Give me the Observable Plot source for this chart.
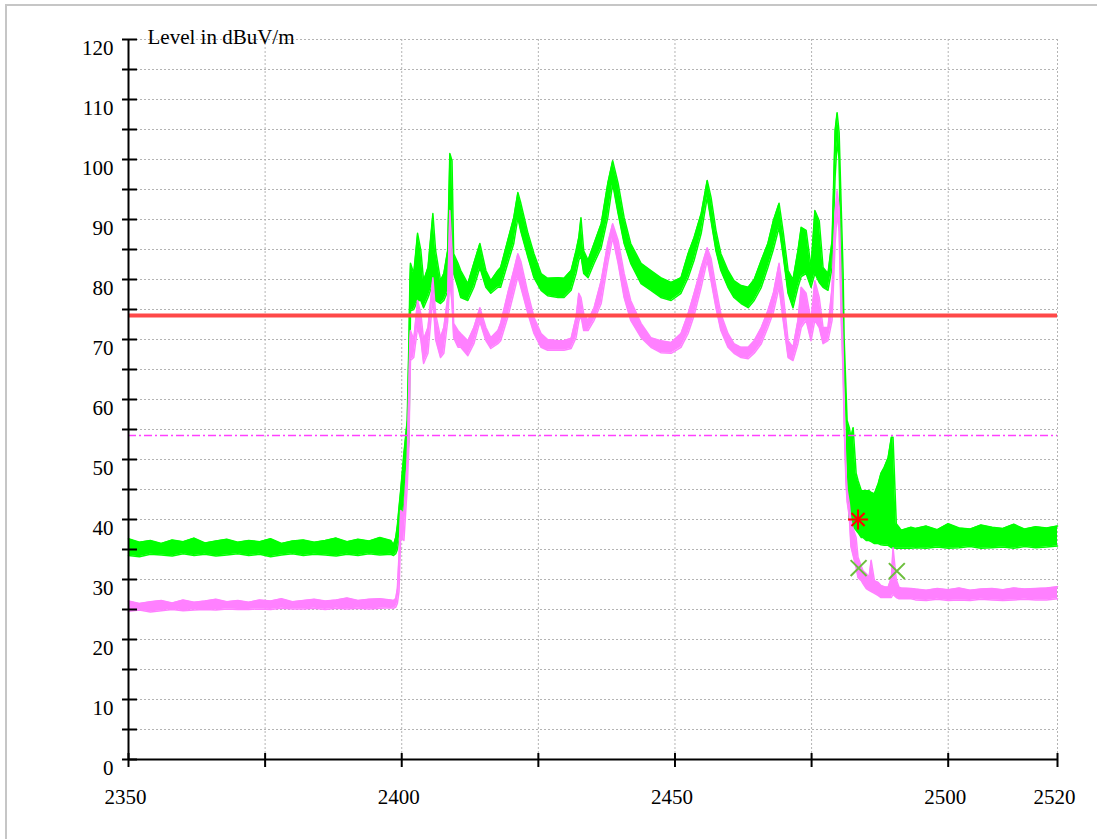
<!DOCTYPE html>
<html>
<head>
<meta charset="utf-8">
<script src="https://cdn.jsdelivr.net/npm/d3@7"></script>
<script src="https://cdn.jsdelivr.net/npm/@observablehq/plot@0.6"></script>
<style>
  html, body { margin: 0; padding: 0; background: #fff; overflow: hidden; }
  #wrap { position: relative; width: 1097px; height: 839px; }
  #border { position: absolute; left: 5px; top: 4px; width: 1200px; height: 1000px;
            border: 2px solid #c6c6c6; pointer-events: none; }
  #chart { position: absolute; left: 0; top: 0; }
  #chart svg text { font-family: "Liberation Serif", "Times New Roman", serif; }
</style>
</head>
<body>
<div id="wrap"><div id="border"></div><div id="chart"></div></div>
<script>
// ---- frequency axis (MHz) ----
const freq = [
  // flat, below band
  2350, 2352, 2354, 2356, 2358, 2360, 2362, 2364, 2366, 2368, 2370, 2372, 2374,
  2376, 2378, 2380, 2382, 2384, 2386, 2388, 2390, 2392, 2394, 2396, 2398,
  // rising edge
  2398.5, 2398.9, 2399.2, 2399.5, 2399.8, 2400.4, 2401.0, 2401.3, 2401.5,
  // in-band
  2401.6, 2402.2, 2402.9, 2403.5, 2404.0, 2404.8, 2405.7, 2406.2, 2407.1, 2407.7,
  2408.4, 2408.8, 2409.2, 2409.5, 2410.3, 2410.8, 2412.1, 2413.2, 2414.3, 2415.4,
  2416.3, 2417.6, 2418.1, 2419.4, 2420.5, 2421.25, 2421.8, 2423.1, 2424.2, 2425.5,
  2426.7, 2428.6, 2429.7, 2431.0, 2431.9, 2432.4, 2432.8, 2433.3, 2434.1, 2435.2,
  2436.5, 2437.7, 2438.6, 2439.6, 2440.7, 2441.9, 2443.8, 2445.6, 2447.4, 2449.3,
  2451.1, 2452.4, 2453.5, 2454.8, 2455.9, 2456.6, 2457.5, 2458.4, 2459.7, 2460.8,
  2462.1, 2463.4, 2464.5, 2465.8, 2467.0, 2468.0, 2469.05, 2469.8, 2470.7, 2471.6,
  2472.5, 2473.1, 2474.0, 2474.9, 2475.6, 2476.4, 2477.1, 2478.0, 2478.75, 2479.3,
  2479.67, 2480.04, 2480.4, 2480.77, 2480.95, 2481.3, 2481.5, 2481.9, 2482.2, 2482.6,
  2483.15, 2483.5, 2484.1, 2484.4, 2485.0, 2485.5, 2485.9, 2486.5, 2487.2, 2487.7,
  2488.3, 2489.0, 2489.6, 2489.9, 2490.5, 2491.0, 2491.4, 2493.2,
  // flat, above band
  2494, 2496, 2498, 2500, 2502, 2504, 2506, 2508, 2510, 2512, 2514, 2516, 2518, 2520
];

// ---- peak trace (green), lower / upper edge of the noisy trace, dBuV/m ----
const greenLo = [
  34.0, 33.8, 34.2, 34.1, 33.9, 34.3, 34.0, 34.2, 33.9, 34.1, 34.3, 34.0, 34.2,
  33.8, 34.1, 34.3, 34.0, 34.2, 34.1, 33.9, 34.2, 34.0, 34.3, 34.1, 34.2,
  34.0, 34.3, 35.0, 36.5, 38.2, 42.7, 49.8, 53.0, 66.0,
  74.8, 75.0, 76.5, 76.5, 75.3, 77.0, 79.3, 76.5, 76.0, 76.5,
  78.0, 85.0, 85.0, 81.0, 78.7, 77.0, 76.5, 78.7, 82.0, 78.7,
  77.7, 78.7, 78.7, 82.7, 86.0, 90.3, 88.0, 83.7, 80.3, 78.2,
  77.3, 77.0, 77.0, 78.2, 81.0, 83.2, 84.0, 81.0, 80.3, 82.7,
  85.3, 90.3, 96.0, 91.0, 86.0, 82.7, 79.3, 78.2, 77.0, 76.5,
  77.7, 80.3, 83.2, 87.7, 93.7, 89.8, 84.8, 81.5, 78.7, 77.0,
  76.0, 75.3, 76.5, 78.7, 82.0, 85.0, 88.7, 84.0, 77.7, 75.3,
  78.7, 80.5, 81.0, 78.7, 81.0, 79.5, 78.7, 78.2, 82.0, 97.0,
  103.0, 100.0, 80.0, 72.0, 66.0, 58.0, 50.0, 40.0, 39.3, 38.8,
  38.2, 37.8, 37.0, 37.0, 36.5, 36.5, 36.3, 36.0, 36.0, 35.8,
  35.7, 35.7, 35.3, 35.3, 35.2, 35.2, 35.2, 35.2,
  35.3, 35.2, 35.4, 35.2, 35.3, 35.5, 35.2, 35.3, 35.4, 35.2, 35.5, 35.3, 35.4, 35.6
];
const greenHi = [
  36.8, 36.2, 36.5, 36.0, 36.6, 36.3, 36.9, 36.1, 36.4, 36.7, 36.2, 36.5, 36.3,
  36.8, 36.0, 36.4, 36.6, 36.2, 36.5, 36.9, 36.3, 36.7, 36.4, 37.0, 36.5,
  35.8, 37.0, 39.0, 42.0, 44.8, 51.0, 56.5, 69.0, 80.0,
  82.7, 81.0, 87.7, 84.8, 79.8, 82.0, 91.0, 84.8, 79.8, 81.0,
  84.8, 101.0, 99.8, 84.3, 82.7, 81.5, 79.3, 82.7, 86.0, 81.5,
  79.8, 81.5, 82.0, 86.5, 90.3, 94.5, 92.7, 87.7, 84.3, 81.0,
  80.2, 80.3, 80.2, 81.5, 84.8, 87.0, 90.3, 84.8, 83.2, 86.0,
  89.3, 96.0, 99.8, 96.0, 90.3, 86.0, 82.7, 81.5, 80.3, 79.5,
  80.3, 84.3, 87.0, 91.0, 96.5, 93.7, 88.2, 84.3, 81.5, 79.8,
  79.0, 78.7, 80.0, 83.2, 86.0, 89.8, 92.7, 88.0, 81.5, 80.0,
  84.8, 88.7, 88.2, 82.0, 91.5, 89.8, 82.0, 81.0, 86.5, 104.8,
  107.8, 104.5, 92.7, 81.0, 70.3, 61.5, 56.5, 55.3, 53.7, 55.3,
  47.7, 46.5, 44.8, 44.8, 44.8, 44.8, 44.5, 44.3, 46.0, 47.7,
  48.7, 50.3, 53.7, 53.7, 39.3, 38.7, 38.2, 38.7,
  38.5, 38.9, 38.3, 39.3, 38.6, 38.4, 39.1, 38.7, 38.5, 39.2, 38.4, 38.8, 38.6, 38.9
];

// ---- average trace (violet), lower / upper edge, dBuV/m ----
const violetLo = [
  24.7, 24.9, 24.6, 24.8, 25.0, 24.8, 24.9, 25.0, 24.9, 25.1, 25.0, 25.0, 25.1,
  25.0, 25.2, 25.1, 25.1, 25.2, 25.0, 25.2, 25.1, 25.2, 25.1, 25.2, 25.3,
  25.2, 25.4, 26.0, 28.0, 37.0, 36.5, 45.3, 52.0, 62.0,
  66.5, 67.0, 72.0, 70.0, 66.0, 67.7, 77.0, 70.0, 67.0, 67.7,
  73.0, 80.0, 76.0, 70.3, 68.7, 68.7, 67.3, 69.3, 73.0, 69.8,
  68.5, 69.3, 69.8, 73.7, 77.7, 80.5, 78.7, 74.3, 71.0, 68.7,
  68.2, 68.2, 68.2, 68.5, 70.3, 73.0, 74.0, 71.5, 71.5, 73.2,
  76.0, 82.7, 87.0, 82.7, 77.0, 73.2, 70.3, 68.7, 67.8, 67.7,
  68.7, 71.0, 74.0, 78.7, 83.2, 79.8, 75.3, 71.5, 68.7, 67.7,
  67.0, 66.8, 67.7, 69.3, 72.0, 74.5, 78.7, 73.2, 67.0, 66.5,
  69.3, 72.0, 73.2, 69.8, 73.2, 72.0, 69.3, 69.8, 73.2, 86.0,
  91.0, 88.0, 74.0, 64.0, 56.0, 46.0, 43.0, 40.5, 35.5, 34.0,
  32.0, 30.3, 29.8, 29.3, 28.5, 28.2, 28.0, 27.7, 27.3, 27.0,
  27.0, 27.0, 27.0, 27.5, 27.0, 26.8, 26.8, 26.8,
  26.6, 26.5, 26.7, 26.5, 26.6, 26.5, 26.7, 26.6, 26.5, 26.6, 26.7, 26.6, 26.6, 26.8
];
const violetHi = [
  26.4, 26.0, 26.3, 26.5, 26.1, 26.6, 26.2, 26.4, 26.7, 26.3, 26.5, 26.2, 26.6,
  26.4, 26.8, 26.3, 26.5, 26.7, 26.4, 26.6, 26.9, 26.5, 26.7, 26.8, 26.6,
  26.5, 26.8, 28.5, 34.0, 41.5, 41.0, 49.8, 62.0, 70.0,
  71.5, 70.0, 76.5, 74.3, 70.0, 72.0, 80.3, 74.3, 70.3, 72.0,
  77.0, 91.5, 84.8, 72.7, 71.5, 71.0, 69.8, 72.0, 75.3, 72.0,
  70.3, 71.5, 72.7, 77.7, 81.5, 84.3, 83.0, 77.7, 73.7, 71.0,
  70.0, 69.8, 69.8, 70.2, 73.7, 77.7, 77.0, 74.3, 73.2, 75.3,
  79.8, 86.0, 89.3, 86.5, 81.0, 76.5, 72.7, 70.3, 69.8, 69.5,
  71.0, 74.3, 77.7, 82.0, 85.3, 83.5, 78.7, 74.3, 71.0, 69.3,
  68.7, 68.7, 69.8, 72.0, 74.8, 77.7, 82.7, 77.7, 69.8, 68.7,
  73.2, 78.7, 77.7, 73.2, 79.8, 77.0, 72.0, 72.0, 78.7, 91.0,
  94.8, 92.0, 80.3, 68.2, 58.2, 47.7, 45.0, 42.7, 39.8, 38.5,
  37.0, 33.7, 32.2, 31.5, 31.0, 30.3, 33.2, 29.8, 29.5, 29.0,
  28.8, 28.7, 30.3, 35.3, 30.0, 28.7, 28.6, 28.5,
  28.4, 28.2, 28.5, 28.3, 28.6, 28.2, 28.4, 28.5, 28.3, 28.6, 28.4, 28.5, 28.6, 28.8
];

// ---- limit lines (dBuV/m) ----
const peakLimit = [74];
const avgLimit = [54];

// ---- markers ----
const peakMarkerF = [2483.5];
const peakMarkerV = [40.0];
const avgMarkerF = [2483.6, 2490.6];
const avgMarkerV = [31.9, 31.4];

// ---- axes ----
const xLabelTicks = [2350, 2400, 2450, 2500, 2520];
const xTicks = [2350, 2375, 2400, 2425, 2450, 2475, 2500, 2520];
const xGrid = [2375, 2400, 2425, 2450, 2475, 2500, 2520];
const yLabelTicks = [0, 10, 20, 30, 40, 50, 60, 70, 80, 90, 100, 110, 120];
const yTicks = [0, 5, 10, 15, 20, 25, 30, 35, 40, 45, 50, 55, 60, 65, 70, 75, 80, 85, 90, 95, 100, 105, 110, 115, 120];
const yGrid = yTicks.filter(v => v > 0);
const yTitle = "Level in dBuV/m";

const trace = freq.map((f, i) => ({
  f, gLo: greenLo[i], gHi: greenHi[i], vLo: violetLo[i], vHi: violetHi[i]
}));
const peakMarks = peakMarkerF.map((f, i) => ({f, v: peakMarkerV[i]}));
const avgMarks = avgMarkerF.map((f, i) => ({f, v: avgMarkerV[i]}));

const GREEN = "#00ff00", VIOLET = "#ff80ff";
const FONT = "Liberation Serif";

const chart = Plot.plot({
  width: 1097,
  height: 839,
  marginLeft: 128,
  marginRight: 40,
  marginTop: 39,
  marginBottom: 80,
  x: {domain: [2350, 2520], axis: null},
  y: {domain: [0, 120], axis: null},
  style: {fontFamily: "'Liberation Serif', 'Times New Roman', serif", fontSize: "21px", background: "transparent", color: "#000", overflow: "visible"},
  marks: [
    // grid
    Plot.ruleY(yGrid, {stroke: "#b4b4b4", strokeWidth: 1, strokeDasharray: "2,2"}),
    Plot.ruleX(xGrid, {stroke: "#b4b4b4", strokeWidth: 1, strokeDasharray: "2,2"}),
    // peak trace
    Plot.areaY(trace, {x: "f", y1: "gLo", y2: "gHi", fill: GREEN}),
    Plot.line(trace, {x: "f", y: "gHi", stroke: GREEN, strokeWidth: 1.5}),
    Plot.line(trace, {x: "f", y: "gLo", stroke: GREEN, strokeWidth: 1.5}),
    // average trace
    Plot.areaY(trace, {x: "f", y1: "vLo", y2: "vHi", fill: VIOLET}),
    Plot.line(trace, {x: "f", y: "vHi", stroke: VIOLET, strokeWidth: 1.5}),
    Plot.line(trace, {x: "f", y: "vLo", stroke: VIOLET, strokeWidth: 1.5}),
    // limits
    Plot.ruleY(peakLimit, {stroke: "#ff4848", strokeWidth: 4}),
    Plot.ruleY(avgLimit, {stroke: "#ff40ff", strokeWidth: 1.5, strokeDasharray: "8,3,2,3"}),
    // markers
    Plot.dot(peakMarks, {x: "f", y: "v", symbol: "plus", r: 6.5, stroke: "#ff0000", strokeWidth: 2}),
    Plot.dot(peakMarks, {x: "f", y: "v", symbol: "times", r: 6, stroke: "#ff0000", strokeWidth: 2}),
    Plot.dot(avgMarks, {x: "f", y: "v", symbol: "times", r: 7.3, stroke: "#6cbf3c", strokeWidth: 2}),
    // axes lines
    Plot.ruleX([2350], {stroke: "#000", strokeWidth: 2}),
    Plot.ruleY([0], {stroke: "#000", strokeWidth: 2}),
    // ticks crossing axes
    Plot.axisY(yTicks, {anchor: "left", tickSize: 15, dx: 9, tickFormat: () => "", strokeWidth: 2, stroke: "#000", label: null}),
    Plot.axisX(xTicks, {anchor: "bottom", tickSize: 14, dy: -6, tickFormat: () => "", strokeWidth: 2, stroke: "#000", label: null}),
    // tick labels
    Plot.text(yLabelTicks, {x: () => 2350, y: d => d, text: d => String(d), textAnchor: "end", dx: -15, dy: 9, fontSize: 21, fontFamily: FONT, fill: "#000"}),
    Plot.text(xLabelTicks, {x: d => d, y: () => 0, text: d => String(d), dx: -3, dy: 38, fontSize: 21, fontFamily: FONT, fill: "#000"}),
    // axis title
    Plot.text([yTitle], {x: () => 2350, y: () => 120, text: d => d, textAnchor: "start", dx: 19, dy: -2, fontSize: 21, fontFamily: FONT, fill: "#000"})
  ]
});
document.getElementById("chart").appendChild(chart);
</script>
</body>
</html>
